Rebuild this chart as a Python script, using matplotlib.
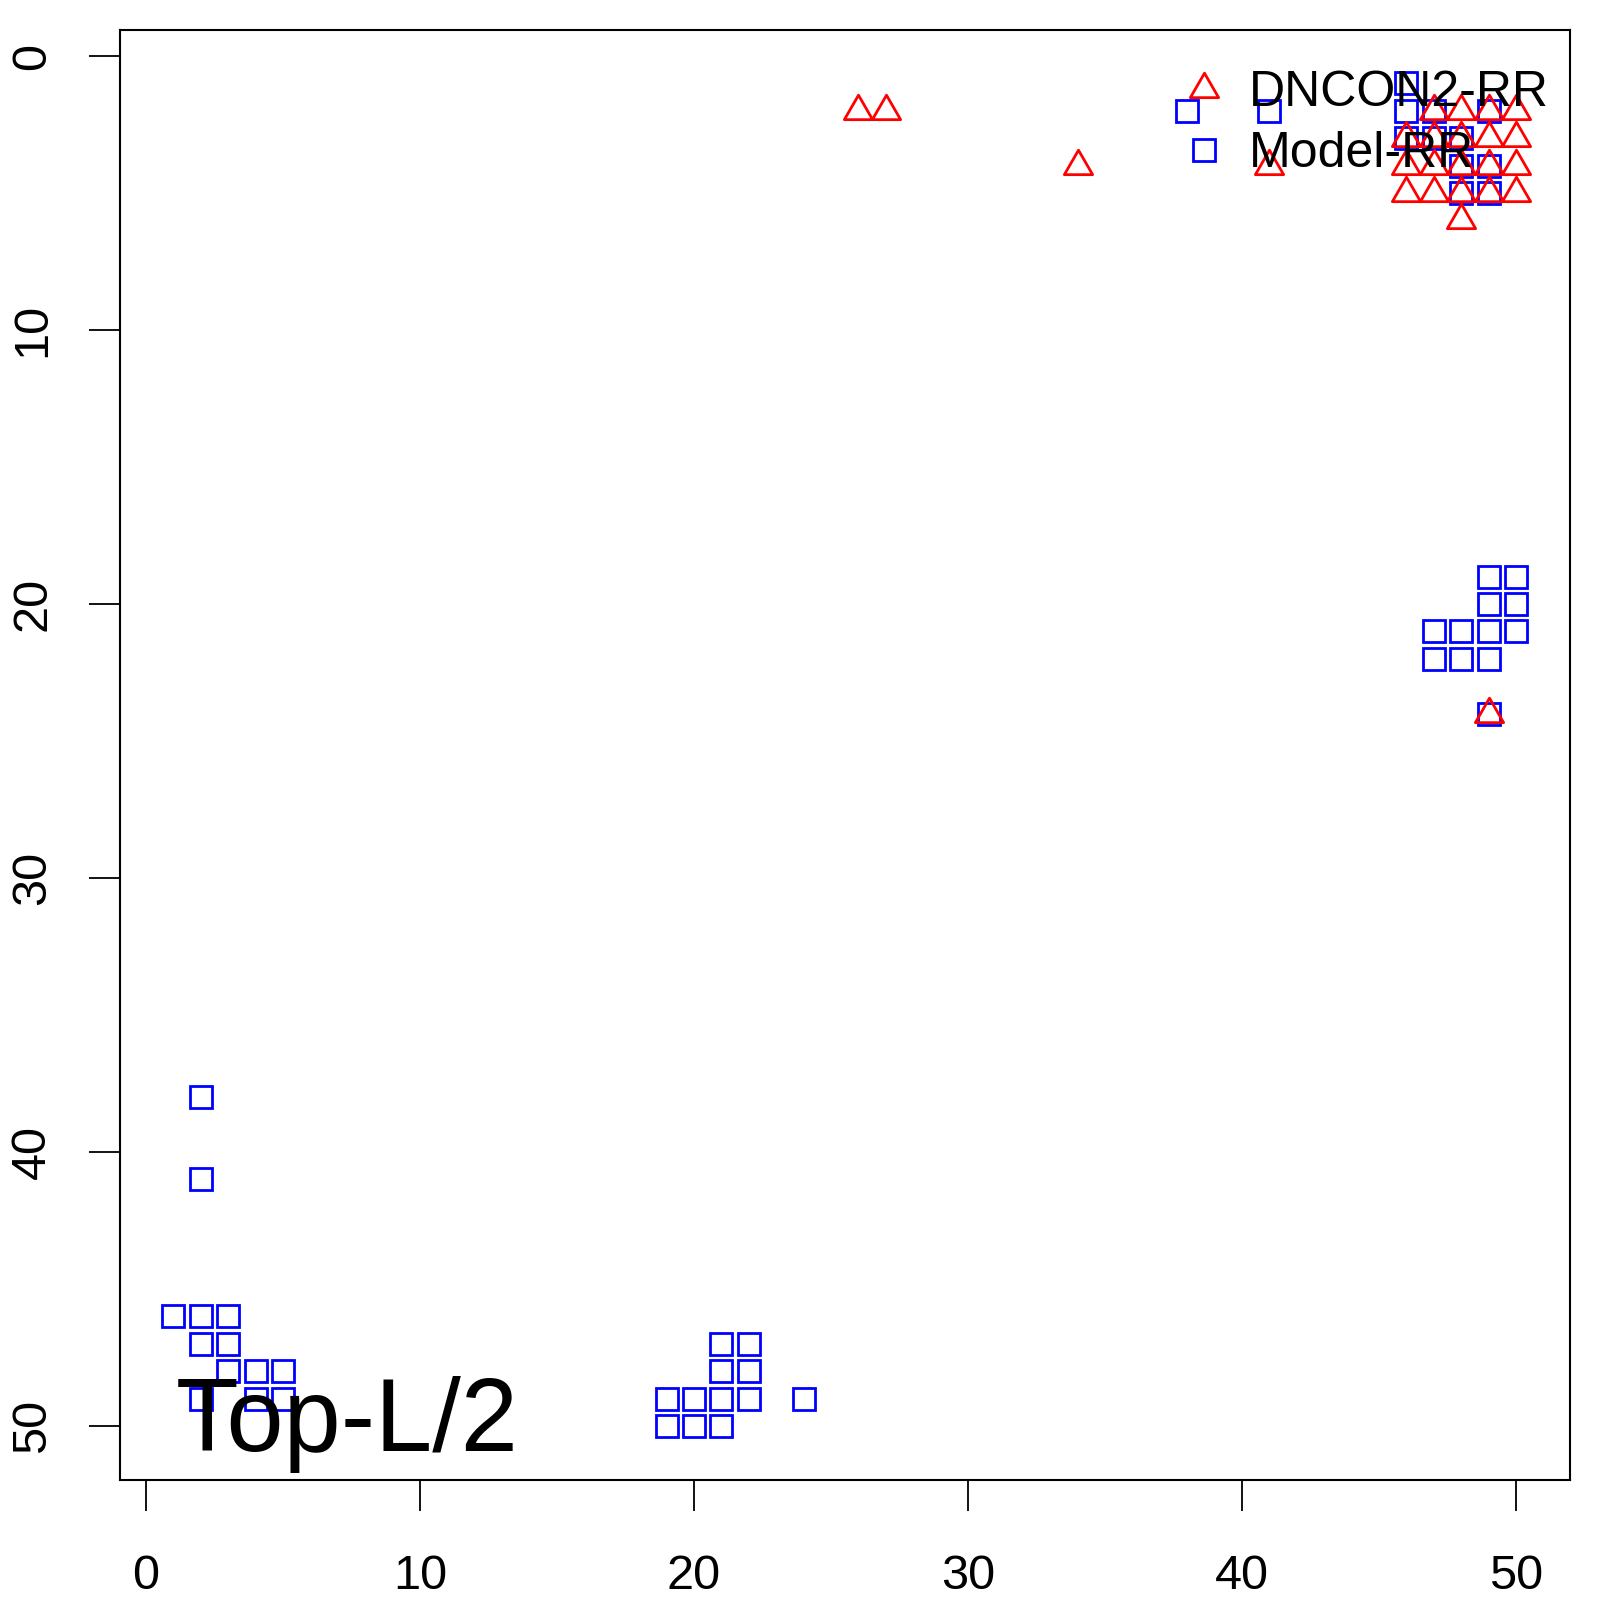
import matplotlib
matplotlib.use("Agg")
import matplotlib.pyplot as plt
from matplotlib.path import Path

plt.rcParams["font.family"] = ["Liberation Sans", "DejaVu Sans"]

# predicted contacts (column i, row j)
dncon2_x = [26, 27, 47, 48, 49, 50,
            46, 47, 48, 49, 50,
            34, 41, 46, 47, 48, 49, 50,
            46, 47, 48, 49, 50,
            48, 49]
dncon2_y = [2, 2, 2, 2, 2, 2,
            3, 3, 3, 3, 3,
            4, 4, 4, 4, 4, 4, 4,
            5, 5, 5, 5, 5,
            6, 24]

model_x = [46, 38, 41, 46, 47, 49, 46, 47, 48, 48, 49, 48, 49,
           49, 50, 49, 50, 47, 48, 49, 50, 47, 48, 49, 49,
           2, 2, 1, 2, 3, 2, 3, 3, 4, 5, 2, 4, 5,
           21, 22, 21, 22, 19, 20, 21, 22, 24, 19, 20, 21]
model_y = [1, 2, 2, 2, 2, 2, 3, 3, 3, 4, 4, 5, 5,
           19, 19, 20, 20, 21, 21, 21, 21, 22, 22, 22, 24,
           38, 41, 46, 46, 46, 47, 47, 48, 48, 48, 49, 49, 49,
           47, 47, 48, 48, 49, 49, 49, 49, 49, 50, 50, 50]

xticks = [0, 10, 20, 30, 40, 50]
yticks = [0, 10, 20, 30, 40, 50]
label_text = "Top-L/2"

# R style triangle (pch = 2): equilateral, centred on its centroid
tri = Path([(0, 1), (-0.866, -0.5), (0.866, -0.5), (0, 0)], closed=True)

fig = plt.figure(figsize=(16, 16), dpi=100)
ax = fig.add_axes([0.0748, 0.0752, 0.9063, 0.9062])

ax.plot(model_x, model_y, linestyle="", marker="s", markersize=15.6,
        markerfacecolor="none", markeredgecolor="blue", markeredgewidth=2.0,
        label="Model-RR")
ax.plot(dncon2_x, dncon2_y, linestyle="", marker=tri, markersize=23.5,
        markerfacecolor="none", markeredgecolor="red", markeredgewidth=2.0,
        label="DNCON2-RR")

ax.set_xlim(-0.96, 51.96)
ax.set_ylim(51.96, -0.96)
ax.set_xticks(xticks)
ax.set_yticks(yticks)
ax.tick_params(axis="both", direction="out", length=22.3, width=1.3,
               labelsize=35)
ax.tick_params(axis="x", pad=31)
ax.tick_params(axis="y", pad=24)
for lab in ax.get_yticklabels():
    lab.set_rotation(90)
    lab.set_verticalalignment("center")
for sp in ax.spines.values():
    sp.set_linewidth(1.5)

ax.text(1.1, 50.9, label_text, fontsize=74, ha="left", va="baseline")

h, l = ax.get_legend_handles_labels()
ax.legend([h[1], h[0]], [l[1], l[0]], loc="upper left",
          bbox_to_anchor=(0.7306, 0.9722), frameon=False, fontsize=36,
          borderpad=0, borderaxespad=0, handlelength=1.0,
          handletextpad=0.40, labelspacing=0.30)

fig.savefig("out.png", dpi=100)
